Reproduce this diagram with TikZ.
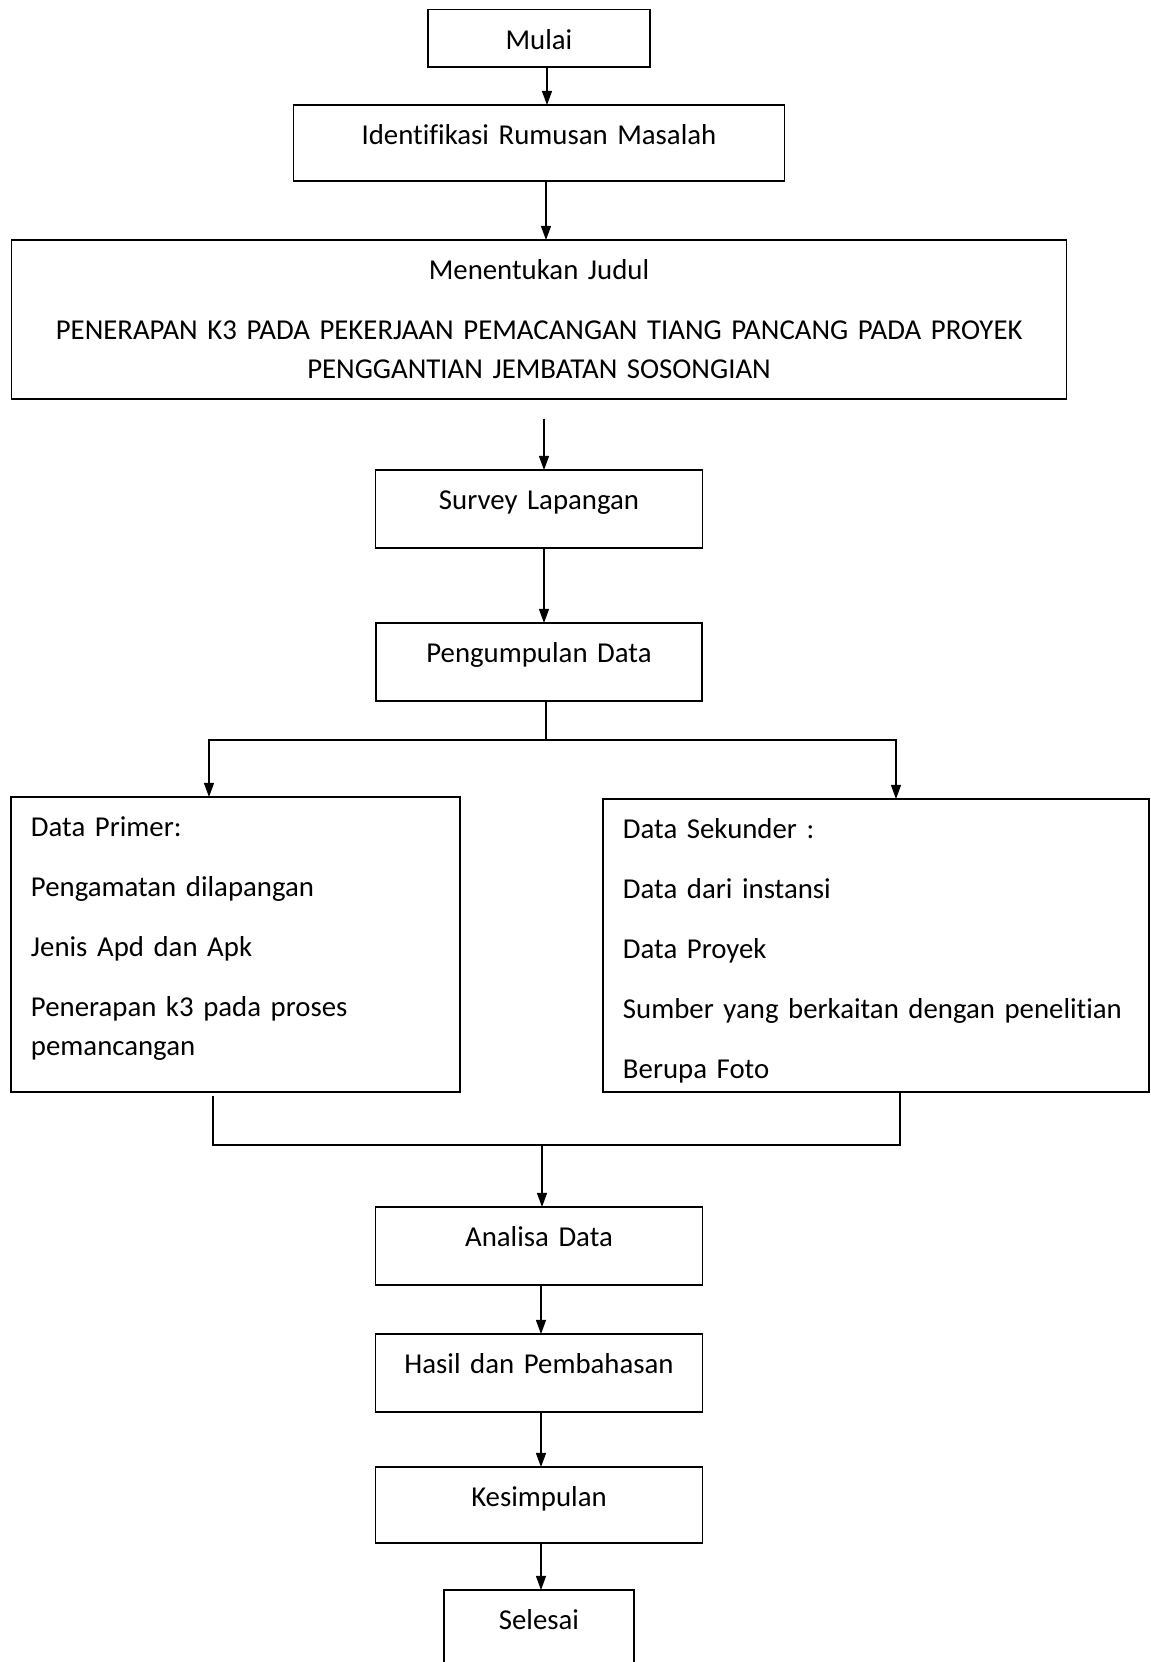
\documentclass[tikz,border=0pt]{standalone}
\usepackage{fontspec}
\setmainfont{Carlito}[Ligatures=CommonOff]
\usetikzlibrary{positioning,arrows.meta}

\tikzset{
	stepbox/.style 2 args={draw, text width=#1, text depth=#2},
}

\begin{document}
\begin{tikzpicture}[
		>={Triangle[length=7pt,width=5pt]},
		line width=0.6pt,
		every node/.style={
			align=center,
			font=\fontsize{14.4pt}{19.5pt}\selectfont,
			inner xsep=10pt,
			inner ysep=0pt,
			outer sep=0pt,
			text height=20pt,
		},
		]

		\useasboundingbox (-269.5pt,19.1pt) rectangle (306pt,-811.9pt);

		\node (mulai) [stepbox={91pt}{8.75pt}] at (0,0) {Mulai};
		\node (identifikasi) [stepbox={225.5pt}{18pt}, below = 19pt of mulai] {Identifikasi Rumusan Masalah};
		\node (judul) [stepbox={507.5pt}{59.5pt}, below = 29.5pt of identifikasi] {Menentukan Judul\\[10.5pt]
			PENERAPAN K3 PADA PEKERJAAN PEMACANGAN TIANG PANCANG PADA PROYEK\\
			PENGGANTIAN JEMBATAN SOSONGIAN};
		\node (survey) [stepbox={143.5pt}{19pt}, below = 35.5pt of judul] {Survey Lapangan};
		\node (pengumpulan) [stepbox={143pt}{19pt}, below = 37.5pt of survey] {Pengumpulan Data};
		\node (primer) [stepbox={204.5pt}{127.5pt}, align=left, below = 48pt of pengumpulan, xshift=-151.75pt] {Data Primer:\\[10.5pt]
			Pengamatan dilapangan\\[10.5pt]
			Jenis Apd dan Apk\\[10.5pt]
			Penerapan k3 pada proses\\
			pemancangan};
		\node (sekunder) [stepbox={253pt}{126.5pt}, align=left, below = 49pt of pengumpulan, xshift=168.5pt] {Data Sekunder :\\[10.5pt]
			Data dari instansi\\[10.5pt]
			Data Proyek\\[10.5pt]
			Sumber yang berkaitan dengan penelitian\\[10.5pt]
			Berupa Foto};
		\node (analisa) [stepbox={143.5pt}{19pt}, below = 253pt of pengumpulan] {Analisa Data};
		\node (hasil) [stepbox={143.5pt}{19pt}, below = 24.5pt of analisa] {Hasil dan Pembahasan};
		\node (kesimpulan) [stepbox={143.5pt}{18pt}, below = 27.5pt of hasil] {Kesimpulan};
		\node (selesai) [stepbox={75pt}{19pt}, below = 23.5pt of kesimpulan] {Selesai};

		\draw[->] ([xshift=4pt]mulai.south) -- ([xshift=4pt]identifikasi.north);
		\draw[->] ([xshift=3.5pt]identifikasi.south) -- ([xshift=3.5pt]judul.north);
		\draw[->, shorten <=10pt] ([xshift=2.5pt]judul.south) -- ([xshift=2.5pt]survey.north);
		\draw[->] ([xshift=2.5pt]survey.south) -- ([xshift=2.5pt]pengumpulan.north);
		% split to both data boxes
		\draw ([xshift=3.5pt]pengumpulan.south) -- ++(0,-19.5pt) coordinate (split);
		\draw[->] (split) -| ([xshift=-13.25pt]primer.north);
		\draw[->] (split) -| ([xshift=10pt]sekunder.north);
		% join again
		\draw ([xshift=-11.25pt,yshift=-2pt]primer.south) -- ++(0,-24.5pt) coordinate (merge) -| ([xshift=12pt]sekunder.south);
		\draw[->] ([xshift=1.5pt]merge -| analisa.north) -- ([xshift=1.5pt]analisa.north);
		\draw[->] ([xshift=1pt]analisa.south) -- ([xshift=1pt]hasil.north);
		\draw[->] ([xshift=1pt]hasil.south) -- ([xshift=1pt]kesimpulan.north);
		\draw[->] ([xshift=1pt]kesimpulan.south) -- ([xshift=1pt]selesai.north);

	\end{tikzpicture}
\end{document}
